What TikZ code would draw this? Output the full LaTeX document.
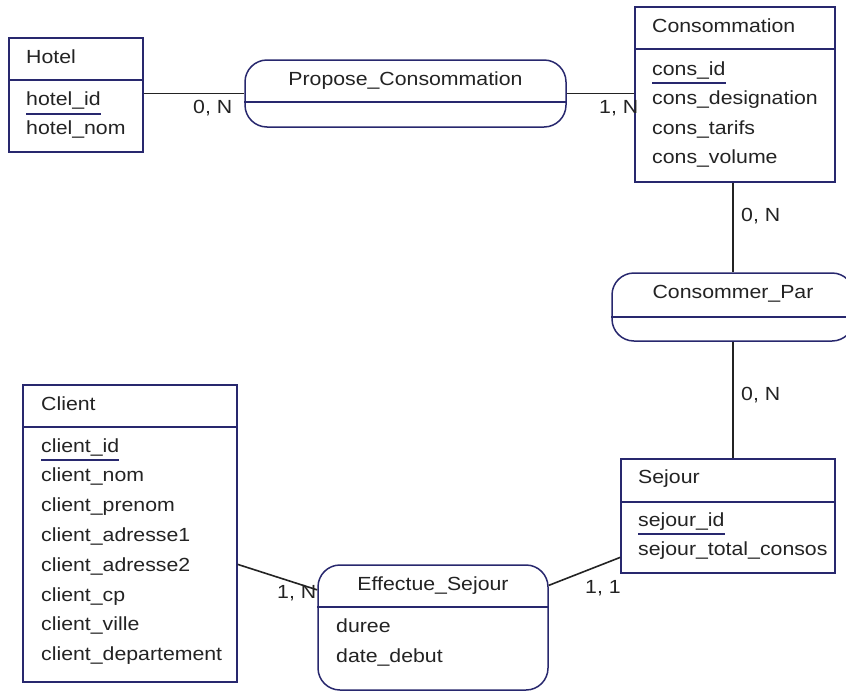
\documentclass[tikz,border=0pt]{standalone}
\usepackage{fontspec}
\setmainfont[FakeStretch=1.12]{Liberation Sans}
\usepackage{xcolor}
\usetikzlibrary{shapes, positioning}

\definecolor{merise}{RGB}{40,40,110}
\definecolor{ink}{RGB}{35,35,35}

\begin{document}
\begin{tikzpicture}[
        x=1pt, y=-1pt,
        font=\fontsize{19}{22}\selectfont,
        entity/.style={rectangle, draw=merise, line width=1.5pt, fill=white, inner sep=0pt},
        relation/.style={rectangle, draw=merise, line width=1.5pt, fill=white, rounded corners=22pt, inner sep=0pt},
        divider/.style={draw=merise, line width=1.5pt},
        field/.style={anchor=base west, inner sep=0pt, text=ink},
        title/.style={anchor=base, inner sep=0pt, text=ink},
        card/.style={anchor=base west, inner sep=0pt, text=ink},
        link/.style={line width=1.6pt, draw=ink}
    ]

    \path[use as bounding box, fill=white] (0,0) rectangle (846,691);

    % entities
    \node [entity, minimum width=134pt, minimum height=114pt] (hotel) at (76,95) {};
    \draw [divider] (hotel.west |- 0,80) -- (hotel.east |- 0,80);
    \node [field] (hoteltitle) at (26,63) {Hotel};
    \node [field] (hotelid) at (26,105) {hotel\_id};
    \node [field] (hotelnom) at (26,134) {hotel\_nom};
    \draw [divider] ([yshift=-9pt]hotelid.base west) -- ([yshift=-9pt]hotelid.base east);

    \node [entity, minimum width=200pt, minimum height=175pt] (consommation) at (735,94.5) {};
    \draw [divider] (consommation.west |- 0,49) -- (consommation.east |- 0,49);
    \node [field] (constitle) at (652,32) {Consommation};
    \node [field] (consid) at (652,75) {cons\_id};
    \node [field] (consdesignation) at (652,104) {cons\_designation};
    \node [field] (constarifs) at (652,134) {cons\_tarifs};
    \node [field] (consvolume) at (652,163) {cons\_volume};
    \draw [divider] ([yshift=-8pt]consid.base west) -- ([yshift=-8pt]consid.base east);

    \node [entity, minimum width=214pt, minimum height=114pt] (sejour) at (728,516) {};
    \draw [divider] (sejour.west |- 0,502) -- (sejour.east |- 0,502);
    \node [field] (sejourtitle) at (638,483) {Sejour};
    \node [field] (sejourid) at (638,526) {sejour\_id};
    \node [field] (sejourtotal) at (638,555) {sejour\_total\_consos};
    \draw [divider] ([yshift=-8pt]sejourid.base west) -- ([yshift=-8pt]sejourid.base east);

    \node [entity, minimum width=214pt, minimum height=297pt] (client) at (130,533.5) {};
    \draw [divider] (client.west |- 0,427) -- (client.east |- 0,427);
    \node [field] (clienttitle) at (41,410) {Client};
    \node [field] (clientid) at (41,452) {client\_id};
    \node [field] (clientnom) at (41,481.8) {client\_nom};
    \node [field] (clientprenom) at (41,511.6) {client\_prenom};
    \node [field] (clientadr1) at (41,541.4) {client\_adresse1};
    \node [field] (clientadr2) at (41,571.2) {client\_adresse2};
    \node [field] (clientcp) at (41,601) {client\_cp};
    \node [field] (clientville) at (41,630.8) {client\_ville};
    \node [field] (clientdep) at (41,660.6) {client\_departement};
    \draw [divider] ([yshift=-8pt]clientid.base west) -- ([yshift=-8pt]clientid.base east);

    % relations
    \node [relation, minimum width=321pt, minimum height=67pt] (propose) at (405.5,93.5) {};
    \draw [divider] (propose.west |- 0,102) -- (propose.east |- 0,102);
    \node [title] (proposetitle) at (405.5,85) {Propose\_Consommation};

    \node [relation, minimum width=242pt, minimum height=68pt] (consommerpar) at (733,307) {};
    \draw [divider] (consommerpar.west |- 0,317) -- (consommerpar.east |- 0,317);
    \node [title] (consommerpartitle) at (733,298) {Consommer\_Par};

    \node [relation, minimum width=230pt, minimum height=125pt] (effectue) at (433,627.5) {};
    \draw [divider] (effectue.west |- 0,607) -- (effectue.east |- 0,607);
    \node [title] (effectuetitle) at (433,590) {Effectue\_Sejour};
    \node [field] (duree) at (336,632) {duree};
    \node [field] (datedebut) at (336,662) {date\_debut};

    % links
    \draw [link] (hotel.east |- propose.west) -- (propose.west);
    \draw [link] (propose.east) -- (propose.east -| consommation.west);
    \draw [link] (consommerpar.north |- consommation.south) -- (consommerpar.north);
    \draw [link] (consommerpar.south) -- (consommerpar.south |- sejour.north);
    \draw [link] (client.-16.4) -- (effectue.162.8);
    \draw [link] (effectue.20.3) -- (sejour.201);

    % cardinalities
    \node [card] (cardhotel) at (193,113) {0, N};
    \node [card] (cardcons) at (599,113) {1, N};
    \node [card] (cardconspar) at (741,221) {0, N};
    \node [card] (cardparsejour) at (741,400) {0, N};
    \node [card] (cardclient) at (277,598) {1, N};
    \node [card] (cardsejour) at (585,593) {1, 1};

    \end{tikzpicture}
\end{document}
